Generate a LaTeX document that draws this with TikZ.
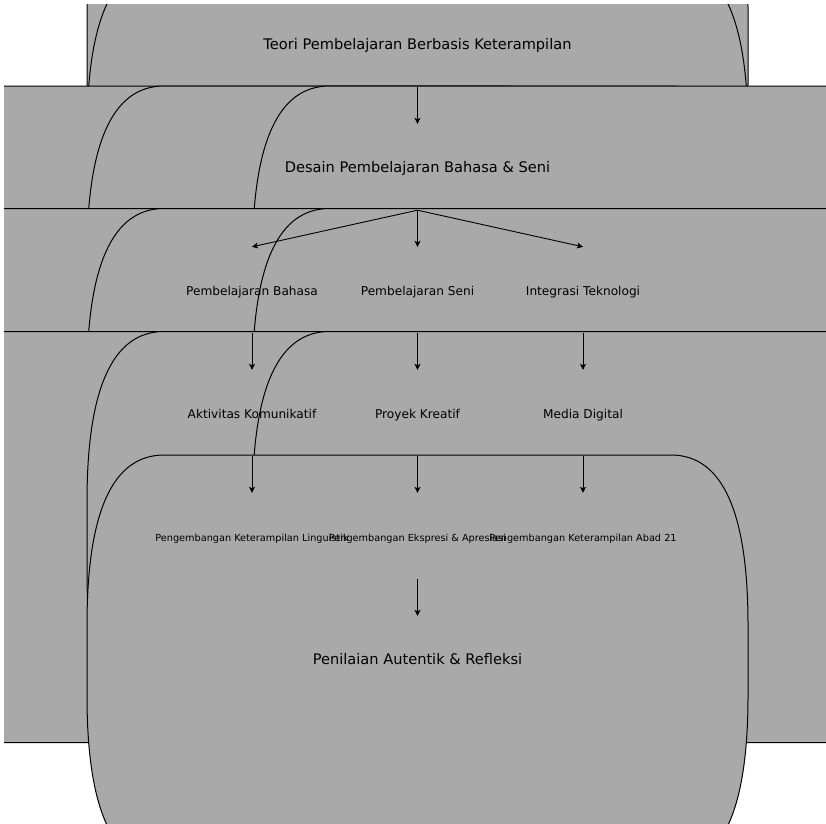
\documentclass[tikz,border=0pt]{standalone}
\usepackage{fontspec}
\setmainfont{DejaVu Sans}
\usetikzlibrary{arrows.meta}
\definecolor{panelgray}{RGB}{169,169,169}
\tikzset{
  panel/.style={fill=panelgray, draw=black, line width=1pt},
  boxtext/.style={inner sep=0pt, minimum height=86pt, text height=0.76em, text depth=0.24em},
  bigtext/.style={boxtext, font=\fontsize{14.6}{17}\selectfont},
  midtext/.style={boxtext, font=\fontsize{12.15}{14}\selectfont},
  smalltext/.style={boxtext, font=\fontsize{9.72}{12}\selectfont},
  flow/.style={-{Stealth[length=6pt,width=6pt,inset=1.5pt]}, line width=0.9pt, black},
}
% text sits slightly below the node centre
\newcommand\dropped[1]{\raisebox{-3pt}{#1}}
% tall rounded panel: #1 = centre x, #2 = top y (661 wide, 411 high)
\newcommand\roundpanel[2]{%
  \draw[panel] ({#1-330.5},{#2+170}) .. controls ({#1-330.5},{#2+56.67}) and ({#1-304.83},{#2}) .. ({#1-253.5},{#2})
    -- ({#1+253.5},{#2}) .. controls ({#1+304.83},{#2}) and ({#1+330.5},{#2+56.67}) .. ({#1+330.5},{#2+170})
    -- ({#1+330.5},{#2+241}) .. controls ({#1+330.5},{#2+354.33}) and ({#1+304.83},{#2+411}) .. ({#1+253.5},{#2+411})
    -- ({#1-253.5},{#2+411}) .. controls ({#1-304.83},{#2+411}) and ({#1-330.5},{#2+354.33}) .. ({#1-330.5},{#2+241})
    -- cycle;}
\begin{document}
\begin{tikzpicture}[x=1pt, y=-1pt]
  \useasboundingbox (0,0) rectangle (826,823);
  \fill[white] (0,0) rectangle (826,823);

  % panels, back to front
  \begin{scope}
    \clip (4,4) rectangle (826,823);
    \roundpanel{417.5}{-160}
    \roundpanel{417.5}{-37}
    \roundpanel{252}{86}
    \roundpanel{417.5}{86}
    \roundpanel{583}{86}
    \roundpanel{252}{208.5}
    \roundpanel{417.5}{208.5}
    \roundpanel{583}{208.5}
    \roundpanel{252}{331.5}
    \roundpanel{417.5}{331.5}
    \roundpanel{583}{331.5}
    \roundpanel{417.5}{455}
  \end{scope}

  % labels
  \node[bigtext] (teori) at (417.5,44) {\dropped{Teori Pembelajaran Berbasis Keterampilan}};
  \node[bigtext] (desain) at (417.5,167) {\dropped{Desain Pembelajaran Bahasa \& Seni}};
  \node[midtext] (bahasa) at (252,290) {\dropped{Pembelajaran Bahasa}};
  \node[midtext] (seni) at (417.5,290) {\dropped{Pembelajaran Seni}};
  \node[midtext] (tekno) at (583,290) {\dropped{Integrasi Teknologi}};
  \node[midtext] (aktivitas) at (252,413) {\dropped{Aktivitas Komunikatif}};
  \node[midtext] (proyek) at (417.5,413) {\dropped{Proyek Kreatif}};
  \node[midtext] (media) at (583,413) {\dropped{Media Digital}};
  \node[smalltext] (linguistik) at (252,536) {\dropped{Pengembangan Keterampilan Linguistik}};
  \node[smalltext] (ekspresi) at (417.5,536) {\dropped{Pengembangan Ekspresi \& Apresiasi}};
  \node[smalltext] (abad) at (583,536) {\dropped{Pengembangan Keterampilan Abad 21}};
  \node[bigtext] (penilaian) at (417.5,659) {\dropped{Penilaian Autentik \& Refleksi}};

  % connectors
  \draw[flow] (teori.south) -- (desain.north);
  \draw[flow] (desain.south) -- (bahasa.north);
  \draw[flow] (desain.south) -- (seni.north);
  \draw[flow] (desain.south) -- (tekno.north);
  \draw[flow] (bahasa.south) -- (aktivitas.north);
  \draw[flow] (seni.south) -- (proyek.north);
  \draw[flow] (tekno.south) -- (media.north);
  \draw[flow] (aktivitas.south) -- (linguistik.north);
  \draw[flow] (proyek.south) -- (ekspresi.north);
  \draw[flow] (media.south) -- (abad.north);
  \draw[flow] (ekspresi.south) -- (penilaian.north);
\end{tikzpicture}
\end{document}
